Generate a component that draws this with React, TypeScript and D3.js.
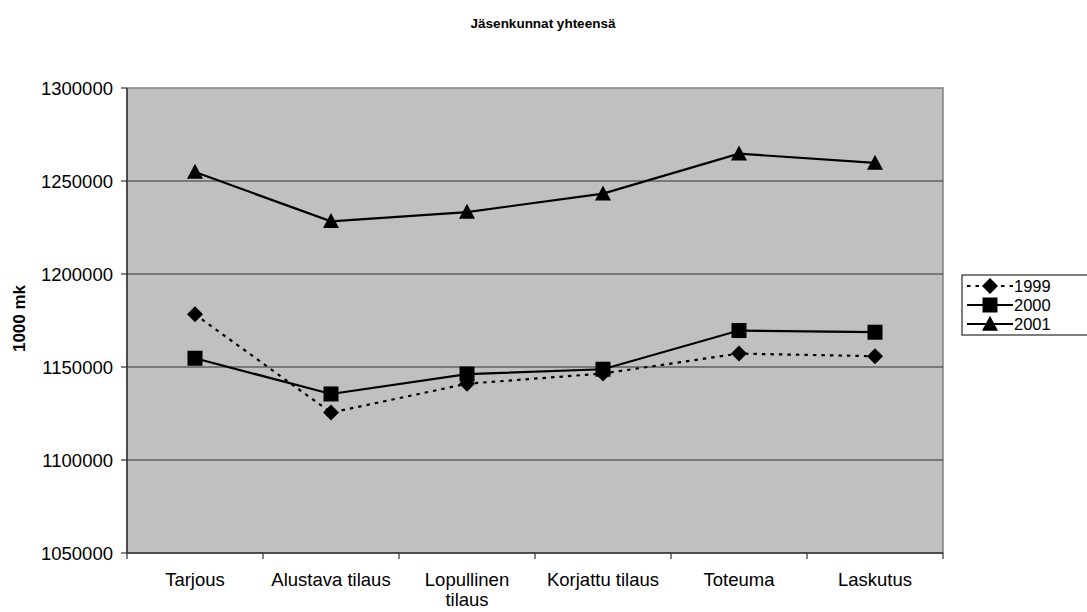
import React from "react";
import * as d3 from "d3";

const title = "Jäsenkunnat yhteensä";
const yAxisTitle = "1000 mk";
const categories = ["Tarjous", "Alustava tilaus", "Lopullinen tilaus", "Korjattu tilaus", "Toteuma", "Laskutus"];
const categoryLines = [["Tarjous"], ["Alustava tilaus"], ["Lopullinen", "tilaus"], ["Korjattu tilaus"], ["Toteuma"], ["Laskutus"]];
const seriesNames = ["1999", "2000", "2001"];
const values1999 = [1178300, 1125500, 1141000, 1146500, 1157200, 1155800];
const values2000 = [1154700, 1135500, 1146200, 1148800, 1169600, 1168700];
const values2001 = [1254800, 1228300, 1233300, 1243200, 1264700, 1259700];
const yTicks = [1050000, 1100000, 1150000, 1200000, 1250000, 1300000];

const W = 1087, H = 612;
const left = 127, right = 943, top = 88, bottom = 553;
const font = "Arial, 'Liberation Sans', sans-serif";

function Marker({ type, x, y }: { type: string; x: number; y: number }) {
  if (type === "diamond") {
    const r = 8;
    return <path d={`M${x},${y - r}L${x + r},${y}L${x},${y + r}L${x - r},${y}Z`} fill="#000" />;
  }
  if (type === "square") {
    const s = 15;
    return <rect x={x - s / 2} y={y - s / 2} width={s} height={s} fill="#000" />;
  }
  const w = 16, h = 15;
  return <path d={`M${x},${y - h * 0.55}L${x + w / 2},${y + h * 0.45}L${x - w / 2},${y + h * 0.45}Z`} fill="#000" />;
}

export default function App() {
  const x = d3.scaleBand<string>().domain(categories).range([left, right]);
  const y = d3.scaleLinear().domain([1050000, 1300000]).range([bottom, top]);
  const series = [
    { name: seriesNames[0], values: values1999, marker: "diamond", dash: "3.5,5" },
    { name: seriesNames[1], values: values2000, marker: "square", dash: undefined },
    { name: seriesNames[2], values: values2001, marker: "triangle", dash: undefined },
  ];
  const line = d3
    .line<number>()
    .x((_, i) => (x(categories[i]) as number) + x.bandwidth() / 2)
    .y((v) => y(v));
  const boundaries = d3.range(categories.length + 1).map((i) => left + i * x.bandwidth());

  const legX = 962, legY = 275, legRow = 19;

  return (
    <svg width={W} height={H} style={{ position: "absolute", left: 0, top: 0, background: "#fff" }} fontFamily={font}>
      <text x={543} y={28} textAnchor="middle" fontSize={13.5} fontWeight="bold">{title}</text>
      <rect x={left} y={top} width={right - left} height={bottom - top} fill="#C0C0C0" stroke="#808080" strokeWidth={1.5} />
      {yTicks.slice(1, -1).map((t) => (
        <line key={t} x1={left} x2={right} y1={y(t)} y2={y(t)} stroke="#333" strokeWidth={1.2} />
      ))}
      <line x1={left} x2={left} y1={top} y2={bottom} stroke="#333" strokeWidth={1.5} />
      <line x1={left} x2={right} y1={bottom} y2={bottom} stroke="#333" strokeWidth={1.5} />
      {yTicks.map((t) => (
        <g key={t}>
          <line x1={left - 6} x2={left} y1={y(t)} y2={y(t)} stroke="#333" strokeWidth={1.2} />
          <text x={113} y={y(t)} dy="0.36em" textAnchor="end" fontSize={18.5}>{t}</text>
        </g>
      ))}
      {boundaries.map((b, i) => (
        <line key={i} x1={b} x2={b} y1={bottom} y2={bottom + 6} stroke="#333" strokeWidth={1.2} />
      ))}
      {categoryLines.map((lines, i) => (
        <text key={i} x={(x(categories[i]) as number) + x.bandwidth() / 2} y={586} textAnchor="middle" fontSize={18.5}>
          {lines.map((l, j) => (
            <tspan key={j} x={(x(categories[i]) as number) + x.bandwidth() / 2} dy={j === 0 ? 0 : 20}>{l}</tspan>
          ))}
        </text>
      ))}
      <text transform={`translate(25,${(top + bottom) / 2 - 2}) rotate(-90)`} textAnchor="middle" fontSize={17} fontWeight="bold">{yAxisTitle}</text>
      {series.map((s) => (
        <g key={s.name}>
          <path d={line(s.values) || ""} fill="none" stroke="#000" strokeWidth={2.2} strokeDasharray={s.dash} />
          {s.values.map((v, i) => (
            <Marker key={i} type={s.marker} x={(x(categories[i]) as number) + x.bandwidth() / 2} y={y(v)} />
          ))}
        </g>
      ))}
      <rect x={legX} y={legY} width={140} height={60} fill="#fff" stroke="#000" strokeWidth={1} />
      {series.map((s, i) => {
        const cy = legY + 11 + i * legRow;
        return (
          <g key={s.name}>
            <line x1={legX + 5} x2={legX + 51} y1={cy} y2={cy} stroke="#000" strokeWidth={2.2} strokeDasharray={s.dash} />
            <Marker type={s.marker} x={legX + 28} y={cy} />
            <text x={legX + 52} y={cy} dy="0.36em" fontSize={16.5}>{s.name}</text>
          </g>
        );
      })}
    </svg>
  );
}
